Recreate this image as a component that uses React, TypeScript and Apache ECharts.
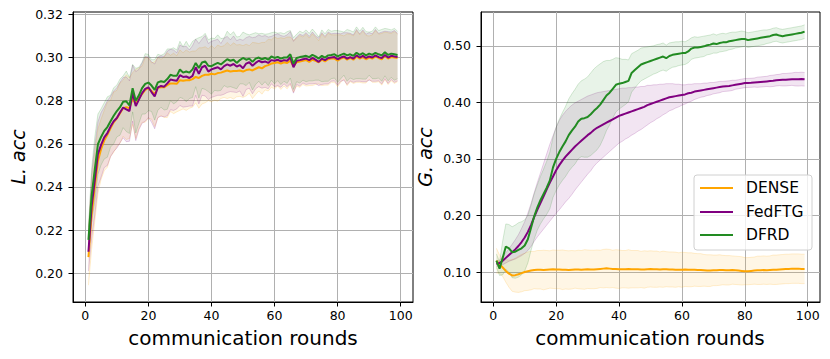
import React, { useEffect, useRef } from "react";
import * as echarts from "echarts";

// ---------- data ----------
const rounds: number[] = [
  1, 2, 3, 4, 5, 6, 7, 8, 9, 10, 11, 12, 13, 14, 15, 16, 17, 18, 19, 20,
  21, 22, 23, 24, 25, 26, 27, 28, 29, 30, 31, 32, 33, 34, 35, 36, 37, 38, 39, 40,
  41, 42, 43, 44, 45, 46, 47, 48, 49, 50, 51, 52, 53, 54, 55, 56, 57, 58, 59, 60,
  61, 62, 63, 64, 65, 66, 67, 68, 69, 70, 71, 72, 73, 74, 75, 76, 77, 78, 79, 80,
  81, 82, 83, 84, 85, 86, 87, 88, 89, 90, 91, 92, 93, 94, 95, 96, 97, 98, 99,
];

const seriesNames = ["DENSE", "FedFTG", "DFRD"];
const xTicks = [0, 20, 40, 60, 80, 100];
const yTicksL = [0.2, 0.22, 0.24, 0.26, 0.28, 0.3, 0.32];
const yTicksR = [0.1, 0.2, 0.3, 0.4, 0.5];

// Local accuracy (left)
const denseL = [
  0.2075, 0.227, 0.24, 0.252, 0.2575, 0.2615, 0.2642, 0.2672, 0.27, 0.2718,
  0.2742, 0.2765, 0.277, 0.2765, 0.281, 0.2785, 0.2812, 0.283, 0.285, 0.2858,
  0.2845, 0.283, 0.286, 0.2862, 0.2862, 0.2872, 0.288, 0.288, 0.2878, 0.2895,
  0.2892, 0.2895, 0.2895, 0.29, 0.291, 0.2905, 0.2915, 0.292, 0.292, 0.2925,
  0.2922, 0.2928, 0.293, 0.2935, 0.294, 0.2935, 0.2938, 0.2938, 0.294, 0.2935,
  0.2942, 0.2945, 0.294, 0.2948, 0.2955, 0.295, 0.296, 0.2965, 0.2972, 0.2975,
  0.2978, 0.2972, 0.2978, 0.2975, 0.2985, 0.296, 0.2978, 0.2982, 0.2985, 0.2988,
  0.298, 0.299, 0.2985, 0.2978, 0.299, 0.2982, 0.2992, 0.2995, 0.2995, 0.2985,
  0.2995, 0.3, 0.299, 0.2998, 0.299, 0.3005, 0.2995, 0.3002, 0.2992, 0.3,
  0.2995, 0.3005, 0.2998, 0.2992, 0.3008, 0.2995, 0.3002, 0.3, 0.2998,
];
const fedftgL = [
  0.21, 0.231, 0.243, 0.2552, 0.2595, 0.263, 0.265, 0.268, 0.2705, 0.272,
  0.2745, 0.2768, 0.276, 0.2752, 0.2835, 0.2775, 0.2805, 0.2835, 0.2855, 0.2862,
  0.284, 0.282, 0.2862, 0.2868, 0.2865, 0.288, 0.2898, 0.2895, 0.2892, 0.2918,
  0.291, 0.2912, 0.2905, 0.2915, 0.2955, 0.2925, 0.2955, 0.2962, 0.2935, 0.2945,
  0.295, 0.2955, 0.2945, 0.296, 0.2968, 0.2962, 0.297, 0.2958, 0.2965, 0.295,
  0.2972, 0.2978, 0.2962, 0.2975, 0.2985, 0.2978, 0.2982, 0.2975, 0.2988, 0.2985,
  0.299, 0.2982, 0.2988, 0.2985, 0.3, 0.2955, 0.2985, 0.2988, 0.2992, 0.2995,
  0.2988, 0.2998, 0.299, 0.298, 0.2995, 0.2988, 0.2998, 0.3, 0.3002, 0.2992,
  0.3, 0.3005, 0.2995, 0.3002, 0.2995, 0.301, 0.3, 0.3008, 0.2998, 0.3005,
  0.3, 0.301, 0.3002, 0.2998, 0.3012, 0.3, 0.3008, 0.3005, 0.3002,
];
const dfrdL = [
  0.2155, 0.236, 0.248, 0.2598, 0.2632, 0.266, 0.2678, 0.2705, 0.273, 0.2752,
  0.277, 0.2795, 0.2797, 0.2778, 0.2858, 0.28, 0.2825, 0.2858, 0.2878, 0.2884,
  0.287, 0.285, 0.2885, 0.289, 0.2887, 0.29, 0.292, 0.2915, 0.2915, 0.2945,
  0.293, 0.2935, 0.293, 0.2945, 0.2975, 0.2952, 0.2977, 0.2982, 0.2962, 0.296,
  0.2968, 0.2975, 0.2968, 0.298, 0.2992, 0.2985, 0.299, 0.2975, 0.2988, 0.2998,
  0.299, 0.2995, 0.298, 0.2995, 0.3, 0.2992, 0.2998, 0.299, 0.3005, 0.2998,
  0.3003, 0.2995, 0.3, 0.3, 0.3015, 0.2972, 0.2998, 0.3002, 0.3005, 0.3008,
  0.3002, 0.3012, 0.3005, 0.2995, 0.3008, 0.3, 0.301, 0.3012, 0.3015, 0.3005,
  0.3012, 0.3018, 0.301, 0.3015, 0.3008, 0.3022, 0.3012, 0.302, 0.301, 0.3018,
  0.3012, 0.3022, 0.3015, 0.301, 0.3025, 0.3012, 0.3018, 0.3015, 0.3012,
];
const denseLStd = [
  0.013, 0.016, 0.016, 0.015, 0.014, 0.014, 0.015, 0.013, 0.014, 0.013,
  0.014, 0.013, 0.015, 0.014, 0.012, 0.016, 0.014, 0.013, 0.015, 0.014,
  0.013, 0.015, 0.014, 0.013, 0.014, 0.015, 0.013, 0.014, 0.013, 0.014,
  0.013, 0.014, 0.013, 0.013, 0.012, 0.014, 0.013, 0.013, 0.012, 0.013,
  0.012, 0.013, 0.012, 0.012, 0.013, 0.012, 0.013, 0.012, 0.012, 0.012,
  0.012, 0.011, 0.013, 0.012, 0.011, 0.012, 0.011, 0.012, 0.011, 0.012,
  0.011, 0.012, 0.011, 0.012, 0.011, 0.012, 0.011, 0.012, 0.011, 0.012,
  0.011, 0.012, 0.011, 0.01, 0.012, 0.011, 0.012, 0.011, 0.011, 0.012,
  0.011, 0.01, 0.012, 0.011, 0.011, 0.012, 0.011, 0.012, 0.011, 0.01,
  0.011, 0.012, 0.011, 0.012, 0.011, 0.012, 0.011, 0.012, 0.011,
];
const fedftgLStd = [
  0.009, 0.015, 0.016, 0.015, 0.015, 0.014, 0.015, 0.014, 0.014, 0.014,
  0.014, 0.014, 0.015, 0.014, 0.013, 0.016, 0.014, 0.014, 0.015, 0.014,
  0.014, 0.015, 0.014, 0.014, 0.014, 0.015, 0.014, 0.014, 0.013, 0.014,
  0.014, 0.014, 0.013, 0.014, 0.013, 0.014, 0.013, 0.014, 0.013, 0.013,
  0.013, 0.013, 0.012, 0.013, 0.013, 0.012, 0.013, 0.012, 0.012, 0.013,
  0.012, 0.012, 0.013, 0.012, 0.012, 0.012, 0.012, 0.012, 0.011, 0.012,
  0.012, 0.012, 0.011, 0.012, 0.012, 0.012, 0.011, 0.012, 0.011, 0.012,
  0.011, 0.012, 0.011, 0.011, 0.012, 0.011, 0.012, 0.011, 0.011, 0.012,
  0.011, 0.011, 0.012, 0.011, 0.011, 0.012, 0.011, 0.012, 0.011, 0.011,
  0.011, 0.012, 0.011, 0.012, 0.011, 0.012, 0.011, 0.012, 0.011,
];
const dfrdLStd = [
  0.006, 0.012, 0.015, 0.014, 0.013, 0.013, 0.014, 0.012, 0.013, 0.012,
  0.013, 0.012, 0.014, 0.013, 0.011, 0.015, 0.013, 0.012, 0.014, 0.013,
  0.012, 0.014, 0.013, 0.012, 0.013, 0.014, 0.012, 0.013, 0.012, 0.013,
  0.012, 0.014, 0.012, 0.013, 0.011, 0.014, 0.012, 0.013, 0.012, 0.013,
  0.012, 0.013, 0.012, 0.011, 0.013, 0.012, 0.013, 0.012, 0.011, 0.012,
  0.012, 0.011, 0.013, 0.012, 0.011, 0.012, 0.011, 0.012, 0.011, 0.012,
  0.011, 0.012, 0.011, 0.012, 0.011, 0.012, 0.011, 0.012, 0.011, 0.012,
  0.011, 0.012, 0.011, 0.01, 0.012, 0.011, 0.012, 0.011, 0.011, 0.012,
  0.011, 0.01, 0.012, 0.011, 0.011, 0.012, 0.011, 0.012, 0.011, 0.01,
  0.011, 0.012, 0.011, 0.012, 0.011, 0.012, 0.011, 0.012, 0.011,
];

// Global accuracy (right)
const denseG = [
  0.12, 0.114, 0.108, 0.102, 0.097, 0.094, 0.0945, 0.096, 0.098, 0.1,
  0.1015, 0.1025, 0.1035, 0.104, 0.104, 0.1035, 0.104, 0.1045, 0.105, 0.1045,
  0.1045, 0.104, 0.104, 0.1035, 0.104, 0.1045, 0.1045, 0.104, 0.1045, 0.105,
  0.1045, 0.1045, 0.105, 0.1055, 0.106, 0.1065, 0.106, 0.1055, 0.1055, 0.105,
  0.105, 0.105, 0.1055, 0.105, 0.105, 0.105, 0.1045, 0.1045, 0.105, 0.1055,
  0.105, 0.105, 0.1045, 0.105, 0.105, 0.1045, 0.1045, 0.104, 0.104, 0.104,
  0.1045, 0.104, 0.104, 0.104, 0.1035, 0.1035, 0.103, 0.1025, 0.1025, 0.103,
  0.103, 0.1035, 0.1035, 0.103, 0.103, 0.1035, 0.103, 0.1025, 0.102, 0.1015,
  0.1015, 0.102, 0.1025, 0.103, 0.103, 0.1035, 0.103, 0.1035, 0.104, 0.104,
  0.1045, 0.105, 0.1055, 0.1055, 0.106, 0.106, 0.106, 0.1055, 0.1055,
];
const fedftgG = [
  0.114, 0.116, 0.12, 0.125, 0.13, 0.135, 0.14, 0.146, 0.153, 0.161,
  0.171, 0.183, 0.197, 0.21, 0.222, 0.234, 0.246, 0.258, 0.269, 0.28,
  0.289, 0.297, 0.304, 0.31, 0.316, 0.322, 0.327, 0.332, 0.337, 0.342,
  0.346, 0.351, 0.355, 0.358, 0.361, 0.364, 0.367, 0.37, 0.373, 0.376,
  0.378, 0.38, 0.382, 0.384, 0.386, 0.388, 0.39, 0.392, 0.395, 0.397,
  0.399, 0.401, 0.403, 0.405, 0.407, 0.409, 0.41, 0.411, 0.412, 0.413,
  0.414, 0.416, 0.417, 0.419, 0.42, 0.421, 0.422, 0.423, 0.424, 0.425,
  0.426, 0.427, 0.428, 0.4285, 0.429, 0.43, 0.431, 0.432, 0.433, 0.434,
  0.4343, 0.4345, 0.435, 0.4355, 0.436, 0.4365, 0.437, 0.4375, 0.438, 0.439,
  0.4395, 0.44, 0.44, 0.4405, 0.441, 0.441, 0.4408, 0.4412, 0.4408,
];
const dfrdG = [
  0.12, 0.106, 0.125, 0.145, 0.142, 0.135, 0.136, 0.139, 0.142, 0.147,
  0.158, 0.178, 0.198, 0.214, 0.227, 0.238, 0.249, 0.262, 0.285, 0.3,
  0.312, 0.322, 0.331, 0.342, 0.35, 0.357, 0.366, 0.371, 0.372, 0.374,
  0.379, 0.385, 0.39, 0.396, 0.404, 0.412, 0.417, 0.424, 0.431, 0.433,
  0.434, 0.436, 0.438, 0.452, 0.457, 0.462, 0.467, 0.469, 0.471, 0.473,
  0.475, 0.477, 0.479, 0.481, 0.478, 0.482, 0.484, 0.485, 0.486, 0.487,
  0.487, 0.49, 0.495, 0.497, 0.497, 0.498, 0.499, 0.501, 0.502, 0.504,
  0.503, 0.505, 0.506, 0.506, 0.508, 0.509, 0.51, 0.511, 0.512, 0.512,
  0.51, 0.511, 0.512, 0.513, 0.514, 0.515, 0.516, 0.517, 0.519, 0.52,
  0.518, 0.517, 0.518, 0.519, 0.52, 0.521, 0.522, 0.523, 0.525,
];
const denseGStd = [
  0.022, 0.016, 0.016, 0.02, 0.024, 0.028, 0.03, 0.032, 0.033, 0.033,
  0.034, 0.034, 0.033, 0.034, 0.034, 0.035, 0.034, 0.033, 0.034, 0.034,
  0.034, 0.035, 0.034, 0.034, 0.034, 0.033, 0.034, 0.034, 0.035, 0.034,
  0.034, 0.034, 0.034, 0.033, 0.034, 0.034, 0.034, 0.033, 0.034, 0.034,
  0.033, 0.033, 0.034, 0.033, 0.033, 0.033, 0.032, 0.033, 0.032, 0.032,
  0.032, 0.032, 0.031, 0.032, 0.031, 0.031, 0.031, 0.031, 0.03, 0.031,
  0.03, 0.03, 0.03, 0.029, 0.029, 0.029, 0.028, 0.028, 0.028, 0.027,
  0.027, 0.027, 0.026, 0.026, 0.026, 0.025, 0.025, 0.025, 0.025, 0.024,
  0.024, 0.024, 0.024, 0.025, 0.025, 0.025, 0.025, 0.025, 0.026, 0.026,
  0.026, 0.026, 0.026, 0.026, 0.026, 0.026, 0.026, 0.026, 0.026,
];
const fedftgGStd = [
  0.004, 0.005, 0.007, 0.009, 0.011, 0.014, 0.017, 0.02, 0.024, 0.028,
  0.033, 0.038, 0.043, 0.048, 0.053, 0.058, 0.063, 0.068, 0.072, 0.076,
  0.079, 0.08, 0.08, 0.08, 0.079, 0.077, 0.075, 0.073, 0.071, 0.069,
  0.067, 0.064, 0.062, 0.06, 0.058, 0.056, 0.054, 0.052, 0.05, 0.048,
  0.047, 0.045, 0.044, 0.042, 0.041, 0.039, 0.038, 0.036, 0.035, 0.033,
  0.032, 0.03, 0.029, 0.027, 0.026, 0.024, 0.023, 0.021, 0.02, 0.018,
  0.017, 0.016, 0.015, 0.014, 0.013, 0.012, 0.012, 0.011, 0.011, 0.01,
  0.01, 0.01, 0.009, 0.009, 0.009, 0.009, 0.008, 0.008, 0.008, 0.008,
  0.008, 0.008, 0.008, 0.009, 0.009, 0.009, 0.009, 0.01, 0.01, 0.01,
  0.01, 0.011, 0.011, 0.011, 0.011, 0.012, 0.012, 0.012, 0.012,
];
const dfrdGStd = [
  0.012, 0.012, 0.03, 0.04, 0.042, 0.045, 0.047, 0.048, 0.047, 0.045,
  0.042, 0.04, 0.04, 0.04, 0.042, 0.044, 0.047, 0.05, 0.053, 0.056,
  0.058, 0.06, 0.062, 0.064, 0.065, 0.066, 0.066, 0.067, 0.069, 0.071,
  0.073, 0.074, 0.074, 0.072, 0.068, 0.062, 0.057, 0.052, 0.048, 0.045,
  0.042, 0.04, 0.037, 0.034, 0.032, 0.03, 0.029, 0.028, 0.027, 0.026,
  0.025, 0.025, 0.024, 0.024, 0.023, 0.023, 0.022, 0.022, 0.021, 0.021,
  0.02, 0.02, 0.019, 0.019, 0.018, 0.018, 0.018, 0.017, 0.017, 0.017,
  0.016, 0.016, 0.016, 0.015, 0.015, 0.015, 0.014, 0.014, 0.014, 0.013,
  0.013, 0.013, 0.013, 0.013, 0.013, 0.013, 0.012, 0.012, 0.012, 0.012,
  0.012, 0.012, 0.012, 0.012, 0.012, 0.012, 0.012, 0.012, 0.012,
];

// ---------- styling ----------
const colors = ["#FFA500", "#800080", "#228B22"];
const FONT = "DejaVu Sans";

function hexToRgba(hex: string, a: number) {
  const n = parseInt(hex.slice(1), 16);
  return `rgba(${(n >> 16) & 255},${(n >> 8) & 255},${n & 255},${a})`;
}

function bandSeries(
  name: string,
  color: string,
  mean: number[],
  std: number[],
  axisIndex: number
) {
  const lower = mean.map((m, i) => m - std[i]);
  const upper = mean.map((m, i) => m + std[i]);
  return {
    type: "custom",
    name: name + " band",
    xAxisIndex: axisIndex,
    yAxisIndex: axisIndex,
    silent: true,
    z: 1,
    data: rounds.map((r, i) => [r, lower[i], upper[i]]),
    encode: { x: 0, y: [1, 2] },
    renderItem: (params: any, api: any) => {
      if (params.dataIndex !== 0) return null;
      const up = rounds.map((r, i) => api.coord([r, upper[i]]));
      const lo = rounds.map((r, i) => api.coord([r, lower[i]]));
      const poly = up.concat(lo.slice().reverse());
      return {
        type: "group",
        children: [
          {
            type: "polygon",
            shape: { points: poly },
            style: { fill: hexToRgba(color, 0.1), stroke: "none" },
          },
          {
            type: "polyline",
            shape: { points: up },
            style: { fill: "none", stroke: hexToRgba(color, 0.18), lineWidth: 1 },
          },
          {
            type: "polyline",
            shape: { points: lo },
            style: { fill: "none", stroke: hexToRgba(color, 0.18), lineWidth: 1 },
          },
        ],
      };
    },
  };
}

function lineSeries(name: string, color: string, mean: number[], axisIndex: number, z: number) {
  return {
    type: "line",
    name,
    xAxisIndex: axisIndex,
    yAxisIndex: axisIndex,
    data: rounds.map((r, i) => [r, mean[i]]),
    symbol: "none",
    showSymbol: false,
    lineStyle: { color, width: 2 },
    itemStyle: { color },
    z,
    silent: true,
  };
}

function makeXAxis(gridIndex: number) {
  return {
    type: "value",
    gridIndex,
    min: -3.9,
    max: 103.9,
    splitNumber: 5,
    axisLine: { show: true, onZero: false, lineStyle: { color: "#000", width: 1 } },
    axisTick: {
      show: true,
      customValues: xTicks,
      length: 4.5,
      lineStyle: { color: "#000", width: 1 },
    },
    axisLabel: {
      customValues: xTicks,
      margin: 7,
      fontSize: 12.5,
      fontFamily: FONT,
      color: "#000",
      formatter: (v: number) => String(Math.round(v)),
    },
    splitLine: { show: true, lineStyle: { color: "#b0b0b0", width: 1 } },
  };
}

function makeYAxis(gridIndex: number, min: number, max: number, ticks: number[], split: number) {
  return {
    type: "value",
    gridIndex,
    min,
    max,
    splitNumber: split,
    axisLine: { show: true, onZero: false, lineStyle: { color: "#000", width: 1 } },
    axisTick: {
      show: true,
      customValues: ticks,
      length: 4.5,
      lineStyle: { color: "#000", width: 1 },
    },
    axisLabel: {
      customValues: ticks,
      margin: 10,
      fontSize: 12.5,
      fontFamily: FONT,
      color: "#000",
      formatter: (v: number) => v.toFixed(2),
    },
    splitLine: { show: true, lineStyle: { color: "#b0b0b0", width: 1 } },
  };
}

export default function App() {
  const ref = useRef<HTMLDivElement>(null);

  useEffect(() => {
    if (!ref.current) return;
    const chart = echarts.init(ref.current, undefined, { renderer: "svg" });

    const legendX = 694;
    const legendY = 175;
    const legendRows = [188, 212, 235];

    const option: any = {
      animation: false,
      backgroundColor: "#fff",
      grid: [
        { left: 73, top: 12, width: 340, height: 290, show: true, borderColor: "#000", borderWidth: 1 },
        { left: 481, top: 12, width: 339, height: 290, show: true, borderColor: "#000", borderWidth: 1 },
      ],
      xAxis: [makeXAxis(0), makeXAxis(1)],
      yAxis: [
        makeYAxis(0, 0.1867, 0.3211, yTicksL, 7),
        makeYAxis(1, 0.047, 0.5597, yTicksR, 5),
      ],
      series: [
        bandSeries(seriesNames[0], colors[0], denseL, denseLStd, 0),
        bandSeries(seriesNames[1], colors[1], fedftgL, fedftgLStd, 0),
        bandSeries(seriesNames[2], colors[2], dfrdL, dfrdLStd, 0),
        lineSeries(seriesNames[0], colors[0], denseL, 0, 3),
        lineSeries(seriesNames[1], colors[1], fedftgL, 0, 4),
        lineSeries(seriesNames[2], colors[2], dfrdL, 0, 5),
        bandSeries(seriesNames[0], colors[0], denseG, denseGStd, 1),
        bandSeries(seriesNames[1], colors[1], fedftgG, fedftgGStd, 1),
        bandSeries(seriesNames[2], colors[2], dfrdG, dfrdGStd, 1),
        lineSeries(seriesNames[0], colors[0], denseG, 1, 3),
        lineSeries(seriesNames[1], colors[1], fedftgG, 1, 4),
        lineSeries(seriesNames[2], colors[2], dfrdG, 1, 5),
      ],
      graphic: [
        {
          type: "text",
          x: 243,
          y: 338,
          style: { text: "communication rounds", font: `20px '${FONT}'`, fill: "#000", align: "center", verticalAlign: "middle" },
        },
        {
          type: "text",
          x: 650,
          y: 338,
          style: { text: "communication rounds", font: `20px '${FONT}'`, fill: "#000", align: "center", verticalAlign: "middle" },
        },
        {
          type: "text",
          x: 18,
          y: 157,
          rotation: Math.PI / 2,
          style: { text: "L. acc", font: `italic 19px '${FONT}'`, fill: "#000", align: "center", verticalAlign: "middle" },
        },
        {
          type: "text",
          x: 425,
          y: 157,
          rotation: Math.PI / 2,
          style: { text: "G. acc", font: `italic 19px '${FONT}'`, fill: "#000", align: "center", verticalAlign: "middle" },
        },
        {
          type: "rect",
          shape: { x: legendX, y: legendY, width: 118, height: 75, r: 3 },
          style: { fill: "rgba(255,255,255,0.8)", stroke: "#d0d0d0", lineWidth: 1 },
          z: 100,
        },
        ...seriesNames.map((n, i) => ({
          type: "line",
          shape: { x1: 700, y1: legendRows[i], x2: 733, y2: legendRows[i] },
          style: { stroke: colors[i], lineWidth: 2 },
          z: 101,
        })),
        ...seriesNames.map((n, i) => ({
          type: "text",
          x: 746,
          y: legendRows[i],
          style: { text: n, font: `15.5px '${FONT}'`, fill: "#000", align: "left", verticalAlign: "middle" },
          z: 101,
        })),
      ],
    };

    chart.setOption(option);
    return () => chart.dispose();
  }, []);

  return (
    <div
      ref={ref}
      style={{ position: "fixed", left: 0, top: 0, width: 830, height: 359 }}
    />
  );
}
